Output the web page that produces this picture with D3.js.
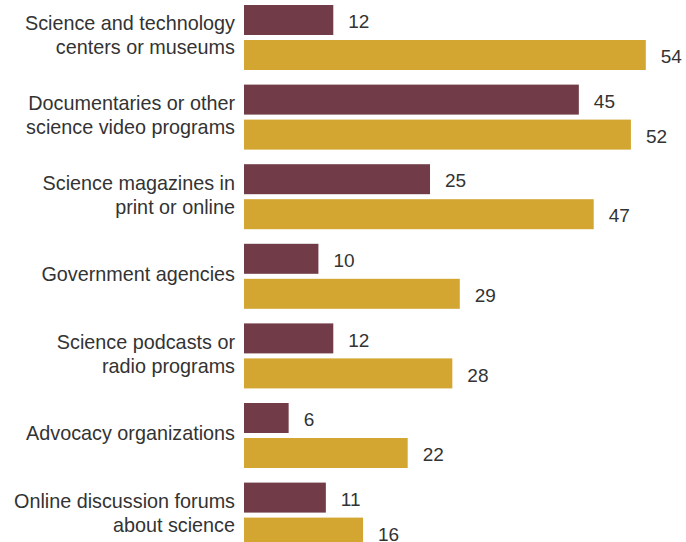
<!DOCTYPE html>
<html>
<head>
<meta charset="utf-8">
<script src="https://cdn.jsdelivr.net/npm/d3@7"></script>
<style>
  body { margin: 0; background: #fff; }
  text { font-family: "Liberation Sans", Arial, sans-serif; fill: #333; }
</style>
</head>
<body>
<script>
  const width = 686, height = 542;

  // categories (label lines) and the two series
  const categories = [
    ["Science and technology", "centers or museums"],
    ["Documentaries or other", "science video programs"],
    ["Science magazines in", "print or online"],
    ["Government agencies"],
    ["Science podcasts or", "radio programs"],
    ["Advocacy organizations"],
    ["Online discussion forums", "about science"]
  ];
  const seriesKeys = ["first", "second"];
  const firstValues  = [12, 45, 25, 10, 12, 6, 11];
  const secondValues = [54, 52, 47, 29, 28, 22, 16];
  const colors = ["#713c47", "#d2a631"];

  const rows = categories.map((c, i) => ({
    key: c.join(" "), lines: c,
    values: [firstValues[i], secondValues[i]]
  }));

  const svg = d3.select("body").append("svg")
      .attr("width", width)
      .attr("height", height);

  const y = d3.scaleBand()
      .domain(rows.map(d => d.key))
      .range([5, 547.6])
      .paddingInner(0.1834)
      .paddingOuter(0);

  const yInner = d3.scaleBand()
      .domain(seriesKeys)
      .range([0, y.bandwidth()])
      .paddingInner(0.143);

  const x = d3.scaleLinear()
      .domain([0, 54])
      .range([244, 645.8]);

  const group = svg.selectAll("g.group")
      .data(rows)
      .enter().append("g")
      .attr("class", "group")
      .attr("transform", d => "translate(0," + y(d.key) + ")");

  group.selectAll("rect")
      .data(d => d.values.map((v, i) => ({k: seriesKeys[i], v: v, i: i})))
      .enter().append("rect")
      .attr("x", x(0))
      .attr("y", d => yInner(d.k))
      .attr("width", d => x(d.v) - x(0))
      .attr("height", yInner.bandwidth())
      .attr("fill", d => colors[d.i]);

  group.selectAll("text.val")
      .data(d => d.values.map((v, i) => ({k: seriesKeys[i], v: v})))
      .enter().append("text")
      .attr("class", "val")
      .attr("x", d => x(d.v) + 15)
      .attr("y", d => yInner(d.k) + yInner.bandwidth() / 2 + 1.5)
      .attr("dy", "0.35em")
      .style("font-size", "19px")
      .text(d => d.v);

  // category labels, right aligned
  const lineH = 24;
  group.append("text")
      .attr("class", "label")
      .attr("text-anchor", "end")
      .style("font-size", "19.8px")
      .each(function(d) {
        const t = d3.select(this);
        const c = y.bandwidth() / 2 - 2;
        const first = c - (d.lines.length - 1) * lineH / 2;
        d.lines.forEach((line, j) => {
          t.append("tspan")
            .attr("x", 235)
            .attr("y", first + j * lineH)
            .attr("dy", "0.35em")
            .text(line);
        });
      });
</script>
</body>
</html>
